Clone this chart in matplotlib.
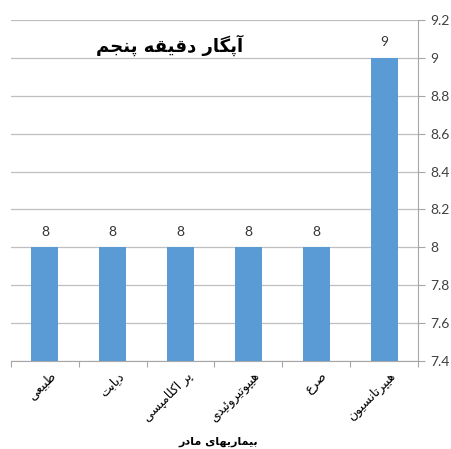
import matplotlib
matplotlib.use("Agg")
import matplotlib.pyplot as plt

# data
categories = ["طبیعی", "دیابت", "پر اکلامپسی", "هیپوتیروئیدی", "صرع", "هیپرتانسیون"]
values = [8, 8, 8, 8, 8, 9]
y_ticks = [7.4, 7.6, 7.8, 8, 8.2, 8.4, 8.6, 8.8, 9, 9.2]
title = "آپگار دقیقه پنجم"
x_title = "بیماریهای مادر"

# isolated, final, initial, medial presentation forms
FORMS = {
    "ا": ("\uFE8D", "\uFE8E", None, None),
    "آ": ("\uFE81", "\uFE82", None, None),
    "ب": ("\uFE8F", "\uFE90", "\uFE91", "\uFE92"),
    "ت": ("\uFE95", "\uFE96", "\uFE97", "\uFE98"),
    "ج": ("\uFE9D", "\uFE9E", "\uFE9F", "\uFEA0"),
    "د": ("\uFEA9", "\uFEAA", None, None),
    "ر": ("\uFEAD", "\uFEAE", None, None),
    "س": ("\uFEB1", "\uFEB2", "\uFEB3", "\uFEB4"),
    "ص": ("\uFEB9", "\uFEBA", "\uFEBB", "\uFEBC"),
    "ط": ("\uFEC1", "\uFEC2", "\uFEC3", "\uFEC4"),
    "ع": ("\uFEC9", "\uFECA", "\uFECB", "\uFECC"),
    "ق": ("\uFED5", "\uFED6", "\uFED7", "\uFED8"),
    "ل": ("\uFEDD", "\uFEDE", "\uFEDF", "\uFEE0"),
    "م": ("\uFEE1", "\uFEE2", "\uFEE3", "\uFEE4"),
    "ن": ("\uFEE5", "\uFEE6", "\uFEE7", "\uFEE8"),
    "ه": ("\uFEE9", "\uFEEA", "\uFEEB", "\uFEEC"),
    "و": ("\uFEED", "\uFEEE", None, None),
    "ئ": ("\uFE89", "\uFE8A", "\uFE8B", "\uFE8C"),
    "پ": ("\uFB56", "\uFB57", "\uFB58", "\uFB59"),
    "ک": ("\uFB8E", "\uFB8F", "\uFB90", "\uFB91"),
    "گ": ("\uFB92", "\uFB93", "\uFB94", "\uFB95"),
    "ی": ("\uFBFC", "\uFBFD", "\uFBFE", "\uFBFF"),
}


def shape(text):
    # simple Persian shaping + reversal for left-to-right rendering
    out = []
    n = len(text)
    for i, ch in enumerate(text):
        if ch not in FORMS:
            out.append(ch)
            continue
        prev = text[i - 1] if i > 0 else None
        nxt = text[i + 1] if i < n - 1 else None
        join_prev = prev in FORMS and FORMS[prev][2] is not None
        join_next = nxt in FORMS and FORMS[ch][2] is not None
        iso, fin, ini, med = FORMS[ch]
        if join_prev and join_next:
            out.append(med)
        elif join_prev:
            out.append(fin)
        elif join_next:
            out.append(ini)
        else:
            out.append(iso)
    return "".join(reversed(out))


plt.rcParams["font.family"] = ["Lato", "DejaVu Sans"]

fig = plt.figure(figsize=(4.51, 4.49), dpi=100)
ax = fig.add_axes([11 / 451, 1 - 361 / 449, 407 / 451, 341 / 449])

x = list(range(len(categories)))
bars = ax.bar(x, [v - y_ticks[0] for v in values], bottom=y_ticks[0], width=0.4,
              color="#5B9BD5", zorder=3)
for xi, v in zip(x, values):
    ax.text(xi, v + 0.05, str(v), ha="center", va="bottom", fontsize=10, color="#333333")

ax.set_xlim(-0.5, len(categories) - 0.5)
ax.set_ylim(y_ticks[0], y_ticks[-1])
ax.yaxis.tick_right()
ax.set_yticks(y_ticks)
ax.set_yticklabels([("%g" % t) for t in y_ticks], fontsize=10, color="#404040")
ax.tick_params(axis="y", length=5, color="#A6A6A6", pad=4)
ax.grid(axis="y", color="#BFBFBF", linewidth=0.9, zorder=0)

ax.set_xticks([i - 0.5 for i in range(len(categories) + 1)])
ax.set_xticklabels([])
ax.tick_params(axis="x", length=4, color="#A6A6A6")
for xi, cat in zip(x, categories):
    ax.text(xi + 0.14, y_ticks[0] - 0.07, shape(cat), rotation=45, rotation_mode="anchor",
            ha="right", va="center", fontsize=9, family=["DejaVu Sans"])

for side in ("top", "left"):
    ax.spines[side].set_visible(False)
ax.spines["right"].set_color("#A6A6A6")
ax.spines["bottom"].set_color("#A6A6A6")

ax.text(0.39, 0.925, shape(title), transform=ax.transAxes, ha="center", va="center",
        fontsize=13, fontweight="bold", family=["DejaVu Sans"])
fig.text(218 / 451, 1 - 442 / 449, shape(x_title), ha="center", va="center",
         fontsize=8, fontweight="bold", family=["DejaVu Sans"])

fig.savefig("out.png", dpi=100)
